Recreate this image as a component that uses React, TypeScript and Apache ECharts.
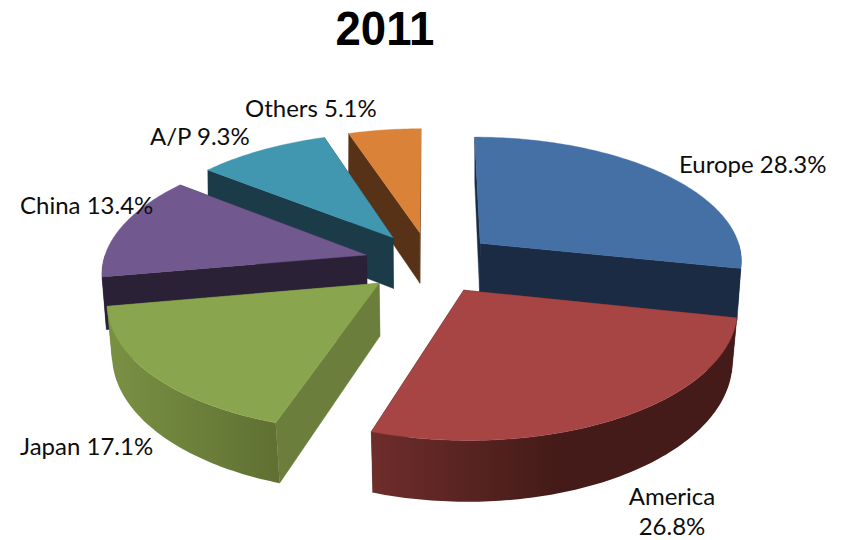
import React, { useEffect, useRef } from "react";
import * as echarts from "echarts";

// Share of the total per region, in percent, clockwise from twelve o'clock.
const regions = ["Europe", "America", "Japan", "China", "A/P", "Others"];
const shares = [28.3, 26.8, 17.1, 13.4, 9.3, 5.1];

const topColors = ["#4570a6", "#a64543", "#89a54e", "#71588f", "#4197b0", "#d98238"];
const cutColors = ["#1a2b43", "#431a17", "#6b7e3b", "#2b2136", "#1a3b47", "#583216"];
const rimStops: string[][] = [
  ["#1a2b43", "#1a2b43"],
  ["#6e2d2b", "#441b18", "#441b18"],
  ["#7a9144", "#5f7032"],
  ["#2b2136", "#2b2136"],
  ["#1a3b47", "#1a3b47"],
  ["#583216", "#583216"],
];

// Wedges are painted from the back of the pie to the front.
const paintOrder = [5, 4, 0, 3, 2, 1];

// Label anchor per region, one entry per text line: left edge or centre, and vertical middle.
const labelLines = [
  { text: "Europe 28.3%", x: 679, y: 163.5, align: "left" },
  { text: "America", x: 672, y: 495.5, align: "center" },
  { text: "26.8%", x: 672, y: 525.5, align: "center" },
  { text: "Japan 17.1%", x: 20, y: 445.5, align: "left" },
  { text: "China 13.4%", x: 20, y: 204.5, align: "left" },
  { text: "A/P 9.3%", x: 150, y: 135.5, align: "left" },
  { text: "Others 5.1%", x: 245, y: 107.5, align: "left" },
];

// Pie projection: ground plane to screen with a mild perspective.
const CX = 430;
const CY = 262.5;
const RADIUS_X = 263.5;
const RADIUS_Y = 124;
const PERSPECTIVE = 0.125;
const DEPTH = 52;
const EXPLODE = 0.25;

const total = shares.reduce((a, b) => a + b, 0);
const startAngles = shares.map((_, i) =>
  shares.slice(0, i).reduce((a, b) => a + b, 0) / total * 360
);

type Pt = [number, number];

function project(u: number, v: number, lower: boolean): Pt {
  const w = 1 + PERSPECTIVE * v;
  const shrink = lower ? 1 - 0.012 * (1 - v) : 1;
  return [
    CX + (RADIUS_X * u * shrink) / w,
    CY - (RADIUS_Y * v) / w + (lower ? DEPTH / w : 0),
  ];
}

function renderWedge(_params: any, api: any) {
  const index = api.value(0);
  const start = api.value(1);
  const sweep = (api.value(2) / total) * 360;
  const end = start + sweep;
  const mid = ((start + sweep / 2) * Math.PI) / 180;
  const ox = EXPLODE * Math.sin(mid);
  const oy = EXPLODE * Math.cos(mid);

  const rim = (deg: number, lower: boolean): Pt => {
    const a = (deg * Math.PI) / 180;
    return project(ox + Math.sin(a), oy + Math.cos(a), lower);
  };
  const apexTop = project(ox, oy, false);
  const apexLow = project(ox, oy, true);

  const arc: number[] = [];
  for (let d = start; d < end; d += 1) arc.push(d);
  arc.push(end);

  const children: any[] = [];
  const poly = (points: Pt[], fill: any) =>
    children.push({
      type: "polygon",
      shape: { points },
      style: { fill, stroke: typeof fill === "string" ? fill : "none", lineWidth: 0.4 },
      silent: true,
    });

  // Straight cut faces, the one turned away from the viewer first.
  const faces = [
    { deg: start, facing: Math.cos(((start - 90) * Math.PI) / 180) },
    { deg: end, facing: Math.cos(((end + 90) * Math.PI) / 180) },
  ].sort((a, b) => b.facing - a.facing);
  faces.forEach((f) =>
    poly([apexTop, rim(f.deg, false), rim(f.deg, true), apexLow], cutColors[index])
  );

  // Curved outer wall, only where it faces the viewer.
  const front = arc.filter((d) => {
    const n = ((d % 360) + 360) % 360;
    return n >= 90 && n <= 270;
  });
  if (front.length > 1) {
    const stops = rimStops[index];
    const fill = new echarts.graphic.LinearGradient(
      0, 0, 1, 0,
      stops.map((color, i) => ({ offset: i / (stops.length - 1), color }))
    );
    poly(
      [
        ...front.map((d) => rim(d, false)),
        ...front.slice().reverse().map((d) => rim(d, true)),
      ],
      fill
    );
  }

  // Top face.
  poly([apexTop, ...arc.map((d) => rim(d, false))], topColors[index]);
  return { type: "group", children };
}

export default function App() {
  const ref = useRef<HTMLDivElement>(null);
  useEffect(() => {
    const chart = echarts.init(ref.current!, undefined, { renderer: "svg" });
    chart.setOption({
      animation: false,
      backgroundColor: "#ffffff",
      series: [
        {
          type: "custom",
          coordinateSystem: "none",
          renderItem: renderWedge,
          silent: true,
          data: paintOrder.map((i) => ({
            name: regions[i],
            value: [i, startAngles[i], shares[i]],
          })),
        },
      ],
      graphic: [
        {
          type: "text",
          x: 335.5,
          y: 28,
          scaleX: 0.93,
          z: 10,
          silent: true,
          style: {
            text: "2011",
            textAlign: "left",
            textVerticalAlign: "middle",
            fontFamily: "Liberation Sans",
            fontWeight: "bold",
            fontSize: 49,
            fill: "#000000",
          },
        },
        ...labelLines.map((l) => ({
          type: "text",
          x: l.x,
          y: l.y,
          z: 10,
          silent: true,
          style: {
            text: l.text,
            textAlign: l.align,
            textVerticalAlign: "middle",
            fontFamily: "Lato",
            fontSize: 24,
            fill: "#0d0d0d",
          },
        })),
      ],
    });
    return () => chart.dispose();
  }, []);
  return (
    <div
      ref={ref}
      style={{ position: "fixed", left: 0, top: 0, width: 842, height: 540 }}
    />
  );
}
